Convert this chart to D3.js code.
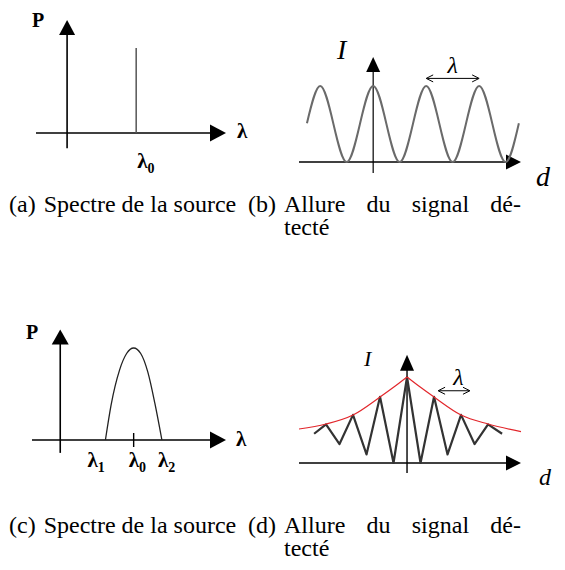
<!DOCTYPE html>
<html>
  <head>
    <meta charset="UTF-8">
    <script src="https://d3js.org/d3.v7.min.js"></script>
    <style>
      body { margin: 0; background: #fff; }
      text { font-family: "Liberation Serif", "Times New Roman", serif; fill: #000; }
      .sym { font-weight: bold; }
      .it { font-style: italic; }
      .cap text { font-size: 24px; }
    </style>
  </head>
  <body>
    <svg class="chart"></svg>
    <script>

      var width = 565,
          height = 570;

      // (a) monochromatic source: one line at lambda0
      var specA_lambda = [0],
          specA_power = [1];

      // (b) detected signal: extrema, d in units of lambda
      var sigB_d = [-1.25, -1, -0.5, 0, 0.5, 1, 1.5, 2, 2.5, 2.75],
          sigB_I = [0.51, 1, 0, 1, 0, 1, 0, 1, 0, 0.51];

      // (c) broad spectrum between lambda1 and lambda2
      var specC_lambda = [-1, -0.8, -0.5, -0.25, 0, 0.25, 0.5, 0.75, 1],
          specC_power = [0, 0.38, 0.76, 0.94, 1, 0.94, 0.74, 0.4, 0],
          specC_ticks = [-1, 0, 1],
          specC_labels = ["1", "0", "2"];

      // (d) detected signal with fringe contrast decaying
      var sigD_d = [-3.44, -3, -2.5, -2, -1.5, -1, -0.5, 0, 0.5, 1, 1.5, 2, 2.5, 3, 3.52],
          sigD_I = [0.34, 0.45, 0.22, 0.56, 0.1, 0.77, 0, 1, 0, 0.77, 0.1, 0.56, 0.22, 0.45, 0.34];

      var envL_d = [-4, -3, -2, -1, -0.5, 0],
          envL_I = [0.395, 0.453, 0.558, 0.767, 0.88, 1],
          envR_d = [0, 0.5, 1, 2, 3, 4.22],
          envR_I = [1, 0.88, 0.767, 0.558, 0.453, 0.365];

      var captions = [
        {label: "(a)", words: ["Spectre de la source"], rest: null},
        {label: "(b)", words: ["Allure", "du", "signal", "dé-"], rest: "tecté"},
        {label: "(c)", words: ["Spectre de la source"], rest: null},
        {label: "(d)", words: ["Allure", "du", "signal", "dé-"], rest: "tecté"}
      ];

      var svg = d3.select(".chart")
          .attr("width", width)
          .attr("height", height);

      // arrow-tipped line from (x1,y1) to (x2,y2)
      function arrowLine(g, x1, y1, x2, y2, len, half, sw) {
        var a = Math.atan2(y2 - y1, x2 - x1),
            bx = x2 - len * Math.cos(a), by = y2 - len * Math.sin(a);
        g.append("line")
            .attr("x1", x1).attr("y1", y1)
            .attr("x2", bx + Math.cos(a)).attr("y2", by + Math.sin(a))
            .attr("stroke", "#000").attr("stroke-width", sw);
        g.append("path")
            .attr("d", "M" + x2 + "," + y2 +
                  "L" + (bx - half * Math.sin(a)) + "," + (by + half * Math.cos(a)) +
                  "L" + (bx + half * Math.sin(a)) + "," + (by - half * Math.cos(a)) + "Z")
            .attr("fill", "#000");
      }

      // small double arrow
      function doubleArrow(g, x1, x2, y) {
        g.append("line").attr("x1", x1 + 1).attr("x2", x2 - 1).attr("y1", y).attr("y2", y)
            .attr("stroke", "#000").attr("stroke-width", 1);
        g.append("path").attr("d", "M" + (x1 + 7) + "," + (y - 3.5) + "L" + x1 + "," + y + "L" + (x1 + 7) + "," + (y + 3.5))
            .attr("fill", "none").attr("stroke", "#000").attr("stroke-width", 1);
        g.append("path").attr("d", "M" + (x2 - 7) + "," + (y - 3.5) + "L" + x2 + "," + y + "L" + (x2 - 7) + "," + (y + 3.5))
            .attr("fill", "none").attr("stroke", "#000").attr("stroke-width", 1);
      }

      // ---------- (a)
      var xA = d3.scaleLinear().domain([-1.45, 1.3]).range([36, 226]),
          yA = d3.scaleLinear().domain([0, 1]).range([133, 48]);
      var gA = svg.append("g");
      arrowLine(gA, xA(-1.45), yA(0), xA(1.3), yA(0), 16, 8.5, 1.6);
      arrowLine(gA, xA(-1), yA(-0.18), xA(-1), yA(1.33), 15, 8, 1.6);
      gA.selectAll(".spike").data(specA_lambda).enter().append("line")
          .attr("x1", function(d) { return xA(d); })
          .attr("x2", function(d) { return xA(d); })
          .attr("y1", yA(0))
          .attr("y2", function(d, i) { return yA(specA_power[i]); })
          .attr("stroke", "#555").attr("stroke-width", 1.5);
      gA.append("text").attr("class", "sym").attr("x", 32).attr("y", 27).style("font-size", "20px").text("P");
      gA.append("text").attr("class", "sym").attr("x", 237).attr("y", 138).style("font-size", "21px").text("λ");
      gA.selectAll(".lab").data(specA_lambda).enter().append("text")
          .attr("class", "sym").attr("x", function(d) { return xA(d) + 1; }).attr("y", 168)
          .style("font-size", "21px")
          .text("λ")
          .append("tspan").attr("dy", 5).style("font-size", "14px").text("0");

      // ---------- (b)
      var xB = d3.scaleLinear().domain([-1.4, 2.79]).range([299, 521]),
          yB = d3.scaleLinear().domain([0, 1]).range([162, 86]);
      var gB = svg.append("g");
      arrowLine(gB, xB(-1.4), yB(0), xB(2.79), yB(0), 15, 7.5, 1.4);
      arrowLine(gB, xB(0), yB(-0.145), xB(0), yB(1.38), 15, 7, 1.2);
      gB.append("path")
          .datum(d3.range(sigB_d.length))
          .attr("d", d3.line().curve(d3.curveMonotoneX)
              .x(function(i) { return xB(sigB_d[i]); })
              .y(function(i) { return yB(sigB_I[i]); }))
          .attr("fill", "none").attr("stroke", "#6a6a6a").attr("stroke-width", 2);
      doubleArrow(gB, xB(1), xB(2), yB(1.1));
      gB.append("text").attr("class", "it").attr("x", xB(1.5)).attr("y", 73)
          .attr("text-anchor", "middle").style("font-size", "24px").text("λ");
      gB.append("text").attr("class", "it").attr("x", 337).attr("y", 59).style("font-size", "28px").text("I");
      gB.append("text").attr("class", "it").attr("x", 536).attr("y", 186).style("font-size", "28px").text("d");

      // ---------- (c)
      var xC = d3.scaleLinear().domain([-3.6, 3.27]).range([32, 226]),
          yC = d3.scaleLinear().domain([0, 1]).range([440, 348]);
      var gC = svg.append("g");
      arrowLine(gC, xC(-3.6), yC(0), xC(3.27), yC(0), 16, 8.5, 1.6);
      arrowLine(gC, xC(-2.6), yC(-0.14), xC(-2.6), yC(1.2), 15, 8.5, 1.6);
      gC.append("path")
          .datum(d3.range(specC_lambda.length))
          .attr("d", d3.line().curve(d3.curveMonotoneX)
              .x(function(i) { return xC(specC_lambda[i]); })
              .y(function(i) { return yC(specC_power[i]); }))
          .attr("fill", "none").attr("stroke", "#222").attr("stroke-width", 1.3);
      gC.append("line").attr("x1", xC(0)).attr("x2", xC(0)).attr("y1", yC(0) - 7).attr("y2", yC(0) + 7)
          .attr("stroke", "#000").attr("stroke-width", 1.4);
      gC.selectAll(".lab").data(specC_ticks).enter().append("text")
          .attr("class", "sym")
          .attr("x", function(d, i) { return xC(d) + [-18, -5, -4][i]; })
          .attr("y", 467)
          .style("font-size", "21px")
          .text("λ")
          .append("tspan").attr("dy", 5).style("font-size", "14px")
          .text(function(d, i) { return specC_labels[i]; });
      gC.append("text").attr("class", "sym").attr("x", 26).attr("y", 339).style("font-size", "20px").text("P");
      gC.append("text").attr("class", "sym").attr("x", 236).attr("y", 446).style("font-size", "21px").text("λ");

      // ---------- (d)
      var xD = d3.scaleLinear().domain([-4.0, 4.22]).range([299, 521]),
          yD = d3.scaleLinear().domain([0, 1]).range([463, 377]);
      var gD = svg.append("g");
      arrowLine(gD, xD(-4.0), yD(0), xD(4.22), yD(0), 15, 7.5, 1.6);
      arrowLine(gD, xD(0), yD(-0.116), xD(0), yD(1.26), 16, 7, 1.4);
      gD.append("path")
          .datum(d3.range(sigD_d.length))
          .attr("d", d3.line()
              .x(function(i) { return xD(sigD_d[i]); })
              .y(function(i) { return yD(sigD_I[i]); }))
          .attr("fill", "none").attr("stroke", "#333").attr("stroke-width", 2.2)
          .attr("stroke-linejoin", "round");
      [[envL_d, envL_I], [envR_d, envR_I]].forEach(function(e) {
        gD.append("path")
            .datum(d3.range(e[0].length))
            .attr("d", d3.line().curve(d3.curveMonotoneX)
                .x(function(i) { return xD(e[0][i]); })
                .y(function(i) { return yD(e[1][i]); }))
            .attr("fill", "none").attr("stroke", "#e2262b").attr("stroke-width", 1.2);
      });
      doubleArrow(gD, xD(1.15), xD(2.33), yD(0.84));
      gD.append("text").attr("class", "it").attr("x", xD(1.9)).attr("y", 385)
          .attr("text-anchor", "middle").style("font-size", "24px").text("λ");
      gD.append("text").attr("class", "it").attr("x", 364).attr("y", 366).style("font-size", "22px").text("I");
      gD.append("text").attr("class", "it").attr("x", 539).attr("y", 485).style("font-size", "24px").text("d");

      // ---------- captions, justified like the source document
      var capPos = [
        {x0: 9, x1: 238, y: 212},
        {x0: 248, x1: 521, y: 212},
        {x0: 9, x1: 238, y: 533},
        {x0: 248, x1: 521, y: 533}
      ];
      captions.forEach(function(c, k) {
        var p = capPos[k];
        var g = svg.append("g").attr("class", "cap");
        var lab = g.append("text").attr("x", p.x0).attr("y", p.y).text(c.label);
        var start = p.x0 + lab.node().getComputedTextLength() + 8;
        var nodes = c.words.map(function(w) {
          return g.append("text").attr("y", p.y).text(w);
        });
        if (nodes.length === 1) {
          nodes[0].attr("x", start);
        } else {
          var total = d3.sum(nodes, function(n) { return n.node().getComputedTextLength(); });
          var gap = (p.x1 - start - total) / (nodes.length - 1);
          var x = start;
          nodes.forEach(function(n) {
            n.attr("x", x);
            x += n.node().getComputedTextLength() + gap;
          });
        }
        if (c.rest) g.append("text").attr("x", start).attr("y", p.y + 23).text(c.rest);
      });

    </script>
  </body>
</html>
